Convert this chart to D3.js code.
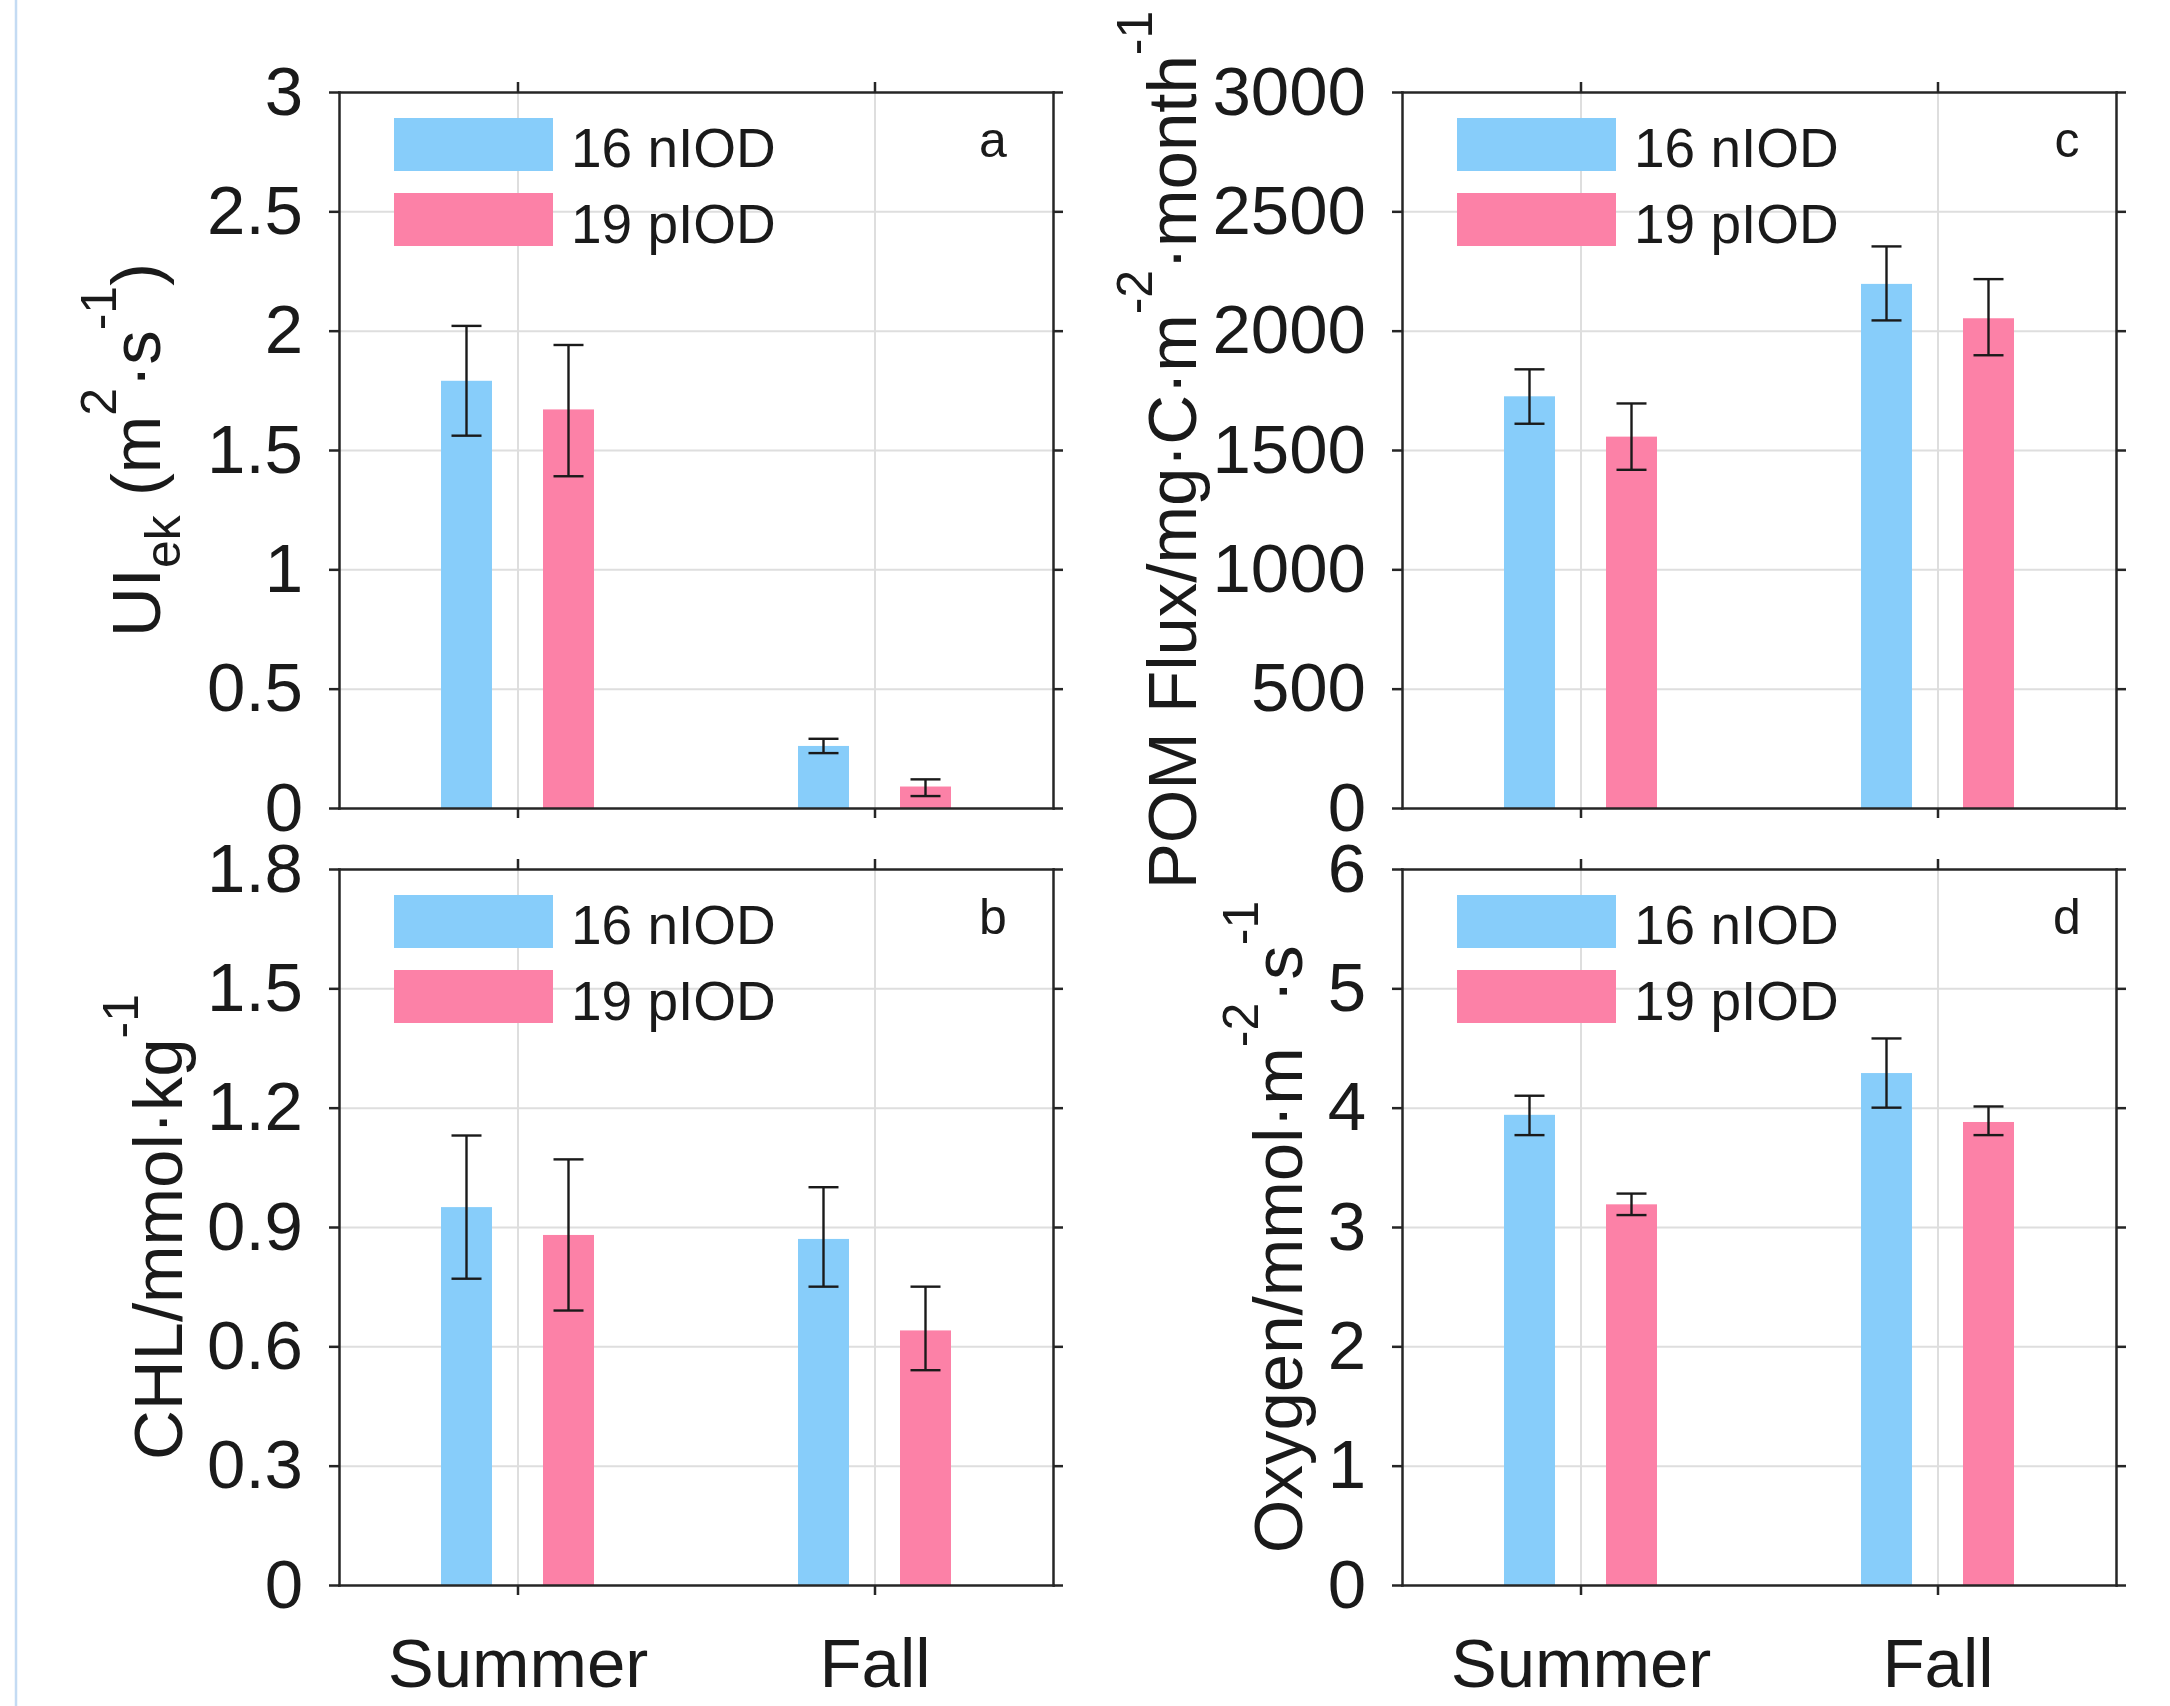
<!DOCTYPE html>
<html>
<head>
<meta charset="utf-8">
<script src="https://cdn.jsdelivr.net/npm/d3@7"></script>
<style>
    html, body { margin: 0; padding: 0; background: #fff; }
    .chart text { font-family: "Liberation Sans", Arial, Helvetica, sans-serif; fill: #1a1a1a; }
    .axis path, .axis line { stroke: #262626; stroke-width: 2.5; }
    .axis path { stroke-linecap: square; }
    .axis text { font-size: 69px; }
    .grid line { stroke: #dedede; stroke-width: 2; }
    .grid path { display: none; }
    .err { stroke: #1a1a1a; stroke-width: 2.4; }
</style>
</head>
<body>
<div class="chart"></div>
<script>
var seasons = ['Summer', 'Fall'];
var seriesNames = ['16 nIOD', '19 pIOD'];
var seriesColors = ['#87cdfa', '#fc81a7'];

// panel a: UIek
var uiekNIOD = [1.79, 0.26];
var uiekNIODErr = [[1.56, 2.02], [0.23, 0.29]];
var uiekPIOD = [1.67, 0.09];
var uiekPIODErr = [[1.39, 1.94], [0.05, 0.12]];
var uiekTicks = [0, 0.5, 1, 1.5, 2, 2.5, 3];
var uiekLabel = [['UI', ''], ['ek', 'sub'], [' (m', ''], ['2', 'sup'], ['\u00b7s', ''], ['-1', 'sup'], [')', '']];

// panel b: CHL
var chlNIOD = [0.95, 0.87];
var chlNIODErr = [[0.77, 1.13], [0.75, 1.00]];
var chlPIOD = [0.88, 0.64];
var chlPIODErr = [[0.69, 1.07], [0.54, 0.75]];
var chlTicks = [0, 0.3, 0.6, 0.9, 1.2, 1.5, 1.8];
var chlLabel = [['CHL/mmol\u00b7kg', ''], ['-1', 'sup']];

// panel c: POM flux
var pomNIOD = [1725, 2196];
var pomNIODErr = [[1610, 1838], [2043, 2353]];
var pomPIOD = [1556, 2052];
var pomPIODErr = [[1417, 1695], [1897, 2216]];
var pomTicks = [0, 500, 1000, 1500, 2000, 2500, 3000];
var pomLabel = [['POM Flux/mg\u00b7C\u00b7m', ''], ['-2', 'sup'], ['\u00b7month', ''], ['-1', 'sup']];

// panel d: Oxygen
var oxyNIOD = [3.94, 4.29];
var oxyNIODErr = [[3.77, 4.10], [4.00, 4.58]];
var oxyPIOD = [3.19, 3.88];
var oxyPIODErr = [[3.10, 3.28], [3.77, 4.01]];
var oxyTicks = [0, 1, 2, 3, 4, 5, 6];
var oxyLabel = [['Oxygen/mmol\u00b7m', ''], ['-2', 'sup'], ['\u00b7s', ''], ['-1', 'sup']];

(function () {
    "use strict";

    var config = {
        selector: '.chart',
        width: 2170,
        height: 1706,
        plotWidth: 714,
        plotHeight: 716,
        barOffset: 1 / 7,
        barWidth: 1 / 7,
        capWidth: 30,
        legendFont: 55,
        letterFont: 50
    };

    var panels = [
        { letter: 'a', left: 339, top: 92, means: [uiekNIOD, uiekPIOD], errs: [uiekNIODErr, uiekPIODErr], ticks: uiekTicks, label: uiekLabel, labelX: 160, letterX: 654, xLabels: false },
        { letter: 'b', left: 339, top: 869, means: [chlNIOD, chlPIOD], errs: [chlNIODErr, chlPIODErr], ticks: chlTicks, label: chlLabel, labelX: 182, letterX: 654, xLabels: true },
        { letter: 'c', left: 1402, top: 92, means: [pomNIOD, pomPIOD], errs: [pomNIODErr, pomPIODErr], ticks: pomTicks, label: pomLabel, labelX: 1196, letterX: 665, xLabels: false },
        { letter: 'd', left: 1402, top: 869, means: [oxyNIOD, oxyPIOD], errs: [oxyNIODErr, oxyPIODErr], ticks: oxyTicks, label: oxyLabel, labelX: 1302, letterX: 665, xLabels: true }
    ];

    function drawYLabel(g, p, h) {
        var text = g.append('text')
            .attr('transform', 'translate(' + (p.labelX - p.left) + ',' + (h / 2) + ') rotate(-90)')
            .attr('text-anchor', 'middle')
            .style('font-size', '69px');
        var shift = 0;
        p.label.forEach(function (part) {
            var target = part[1] === 'sup' ? -44 : (part[1] === 'sub' ? 20 : 0);
            text.append('tspan')
                .attr('dy', target - shift)
                .style('font-size', part[1] ? '50px' : '69px')
                .text(part[0]);
            shift = target;
        });
    }

    function drawPanel(svg, p) {
        var w = config.plotWidth;
        var h = config.plotHeight;
        var g = svg.append('g').attr('transform', 'translate(' + p.left + ',' + p.top + ')');
        var ticks = p.ticks;

        var x = d3.scaleLinear().domain([0.5, seasons.length + 0.5]).range([0, w]);
        var y = d3.scaleLinear().domain([0, ticks[ticks.length - 1]]).range([h, 0]);
        var xTicks = seasons.map(function (d, i) { return i + 1; });
        var bw = x(config.barWidth) - x(0);

        g.append('g').attr('class', 'grid')
            .call(d3.axisLeft(y).tickValues(ticks.slice(1, -1)).tickSize(-w).tickFormat(''));
        g.append('g').attr('class', 'grid')
            .attr('transform', 'translate(0,' + h + ')')
            .call(d3.axisBottom(x).tickValues(xTicks).tickSize(-h).tickFormat(''));

        seriesNames.forEach(function (name, s) {
            var off = (s * 2 - 1) * config.barOffset;
            g.selectAll('.bar-' + s)
                .data(p.means[s])
                .enter().append('rect')
                .attr('class', 'bar-' + s)
                .attr('x', function (d, i) { return x(i + 1 + off) - bw / 2; })
                .attr('width', bw)
                .attr('y', function (d) { return y(d); })
                .attr('height', function (d) { return h - y(d); })
                .attr('fill', seriesColors[s]);

            var errG = g.selectAll('.err-' + s)
                .data(p.errs[s])
                .enter().append('g')
                .attr('class', 'err err-' + s)
                .attr('transform', function (d, i) { return 'translate(' + x(i + 1 + off) + ',0)'; });
            errG.append('line')
                .attr('x1', 0).attr('x2', 0)
                .attr('y1', function (d) { return y(d[0]); })
                .attr('y2', function (d) { return y(d[1]); });
            errG.append('line')
                .attr('x1', -config.capWidth / 2).attr('x2', config.capWidth / 2)
                .attr('y1', function (d) { return y(d[0]); })
                .attr('y2', function (d) { return y(d[0]); });
            errG.append('line')
                .attr('x1', -config.capWidth / 2).attr('x2', config.capWidth / 2)
                .attr('y1', function (d) { return y(d[1]); })
                .attr('y2', function (d) { return y(d[1]); });
        });

        // legend, no box
        var legend = g.append('g').attr('class', 'legend');
        seriesNames.forEach(function (name, s) {
            legend.append('rect')
                .attr('x', 55).attr('y', 26 + s * 75)
                .attr('width', 159).attr('height', 53)
                .attr('fill', seriesColors[s]);
            legend.append('text')
                .attr('x', 232).attr('y', 75 + s * 76)
                .style('font-size', config.legendFont + 'px')
                .text(name);
        });

        g.append('text')
            .attr('x', p.letterX).attr('y', 65)
            .attr('text-anchor', 'middle')
            .style('font-size', config.letterFont + 'px')
            .text(p.letter);

        g.append('g').attr('class', 'axis')
            .call(d3.axisLeft(y).tickValues(ticks).tickSize(10).tickSizeOuter(0).tickPadding(26)
                .tickFormat(function (d) { return String(d); }));
        g.append('g').attr('class', 'axis')
            .attr('transform', 'translate(' + w + ',0)')
            .call(d3.axisRight(y).tickValues(ticks).tickSize(10).tickSizeOuter(0).tickFormat(''));
        g.append('g').attr('class', 'axis')
            .call(d3.axisTop(x).tickValues(xTicks).tickSize(10).tickSizeOuter(0).tickFormat(''));
        g.append('g').attr('class', 'axis')
            .attr('transform', 'translate(0,' + h + ')')
            .call(d3.axisBottom(x).tickValues(xTicks).tickSize(10).tickSizeOuter(0).tickPadding(43)
                .tickFormat(function (d) { return p.xLabels ? seasons[d - 1] : ''; }));

        drawYLabel(g, p, h);
    }

    function drawGraph() {
        var svg = d3.select(config.selector).append('svg')
            .attr('width', config.width)
            .attr('height', config.height)
            .style('display', 'block')
            .style('background', '#fff');

        svg.append('line')
            .attr('x1', 16).attr('x2', 16)
            .attr('y1', 0).attr('y2', config.height)
            .attr('stroke', '#c4dbf3')
            .attr('stroke-width', 2.5);

        panels.forEach(function (p) {
            drawPanel(svg, p);
        });
    }

    drawGraph();
})();
</script>
</body>
</html>
